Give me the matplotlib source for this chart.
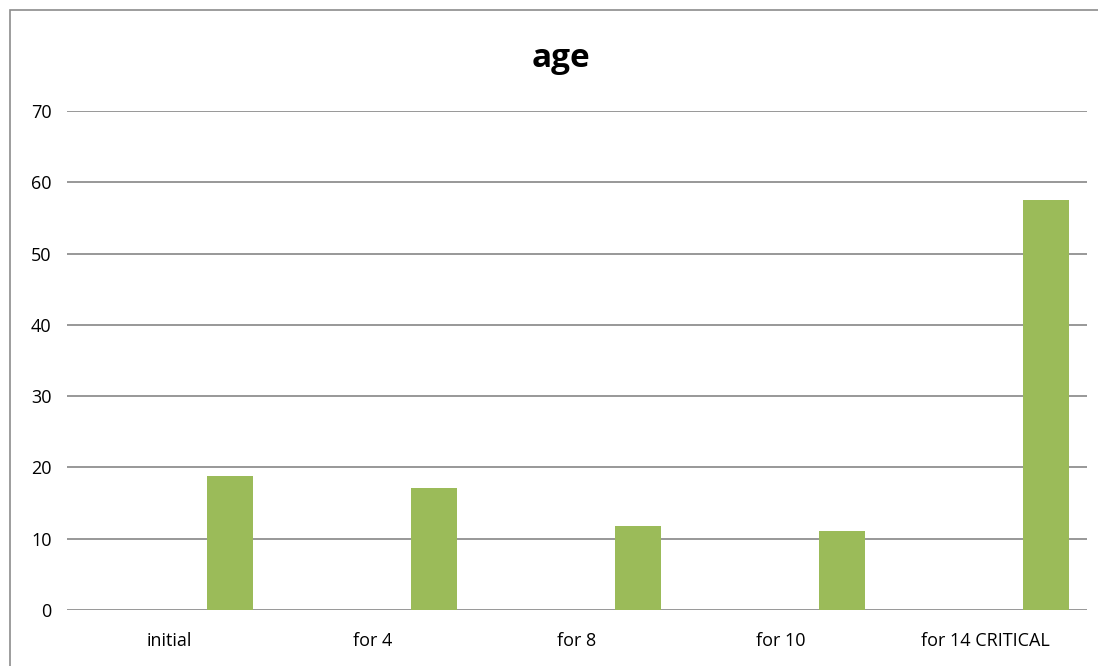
import numpy as np
import matplotlib.pyplot as plt
from matplotlib.patches import Rectangle

categories = ['initial', 'for 4', 'for 8', 'for 10', 'for 14 CRITICAL']
age = [18.8, 17.1, 11.8, 11.1, 57.5]
yticks = [0, 10, 20, 30, 40, 50, 60, 70]

plt.rcParams['font.family'] = ['Open Sans', 'DejaVu Sans']

fig = plt.figure(figsize=(10.98, 6.66), dpi=100)
ax = fig.add_axes([0.061, 0.0841, 0.929, 0.7492])

x = np.arange(len(categories))
ax.bar(x + 0.3, age, width=0.225, color='#9BBB59', zorder=3)

ax.set_xlim(-0.5, len(categories) - 0.5)
ax.set_ylim(0, 70)
ax.set_yticks(yticks)
ax.set_xticks(x)
ax.set_xticklabels(categories, fontsize=13)
ax.tick_params(axis='y', length=0, pad=11, labelsize=13)
ax.tick_params(axis='x', length=0, pad=16)
for t in yticks:
    ax.axhline(t, color='#868686', linewidth=1.2, zorder=1)
for s in ax.spines.values():
    s.set_visible(False)

fig.text(0.511, 0.912, 'age', ha='center', va='center', fontsize=24, fontweight='bold')

# outer chart border
fig.patches.append(Rectangle((10 / 1098, -0.1), 1.2, 1 - 10 / 666 + 0.1,
                             transform=fig.transFigure, fill=False,
                             edgecolor='#8c8c8c', linewidth=1.2))

fig.savefig('out.png')
